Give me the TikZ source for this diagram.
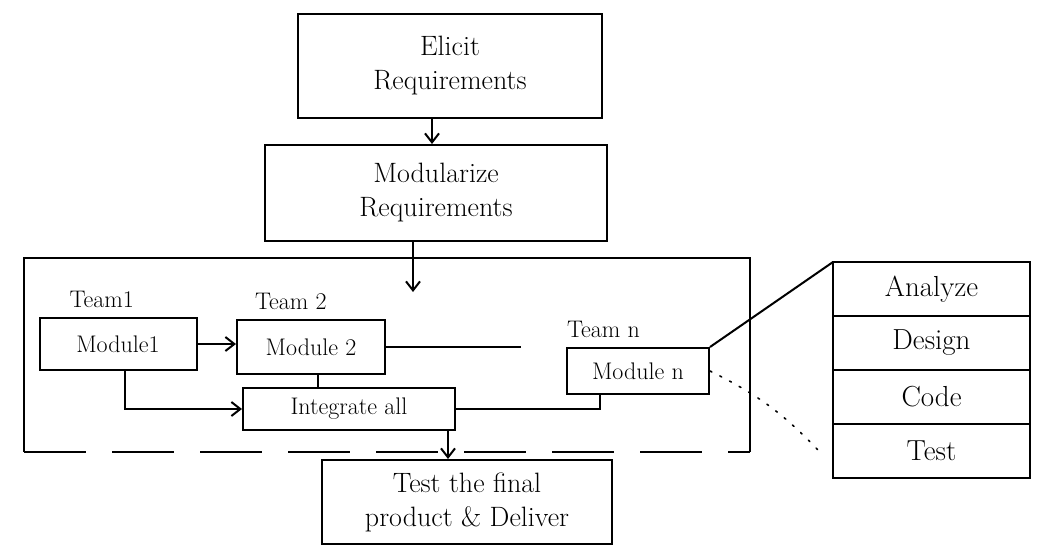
\documentclass[tikz,border=0pt]{standalone}
\usetikzlibrary{arrows.meta}
\begin{document}
\begin{tikzpicture}[x=1pt,y=-1pt,line width=2pt,
  box/.style={draw,rectangle,inner sep=0pt,align=center},
  big/.style={font=\fontsize{28}{34}\selectfont},
  mid/.style={font=\fontsize{24}{28}\selectfont},
  lbl/.style={inner sep=0pt,font=\fontsize{24}{28}\selectfont},
  row/.style={box,outer sep=0pt,minimum width=197,minimum height=54,
    font=\fontsize{29}{33}\selectfont},
  flow/.style={-{Straight Barb[length=9pt,width=14pt]}},
  hint/.style={line width=1.6pt,dash pattern=on 2pt off 9pt,line cap=round}]
% canvas
\path[fill=white] (0,0) rectangle (1040,551);

% requirement steps
\node[box,big,minimum width=304,minimum height=104] (elicit) at (450,66) {Elicit\\Requirements};
\node[box,big,minimum width=342,minimum height=96] (modul) at (436,193) {Modularize\\Requirements};
\draw[flow] ([xshift=-18]elicit.south) -- ([xshift=-18]elicit.south |- modul.north);

% team container, open (dashed) at the bottom
\coordinate (ctl) at (24,258);
\coordinate (ctr) at (750,258);
\coordinate (cbl) at (24,452);
\coordinate (cbr) at (750,452);
\draw (cbl) -- (ctl) -- (ctr) -- (cbr);
\draw[dash pattern=on 62pt off 26pt] (cbl) -- (cbr);
\draw[flow] ([xshift=-23]modul.south) -- ++(0,50);

% modules of the teams
\node[box,mid,minimum width=157,minimum height=52] (m1) at (118,344) {Module1};
\node[box,mid,minimum width=148,minimum height=54] (m2) at (311,347) {Module 2};
\node[box,mid,minimum width=142,minimum height=46] (mn) at (638,371) {Module n};
\node[lbl,anchor=south west] (t1) at ([shift={(30,-8)}]m1.north west) {Team1};
\node[lbl,anchor=south west] (t2) at ([shift={(18,-8)}]m2.north west) {Team 2};
\node[lbl,anchor=south west] (tn) at ([shift={(0,-8)}]mn.north west) {Team n};

% integration
\node[box,mid,minimum width=212,minimum height=42] (integ) at (349,409) {Integrate all};
\draw[flow] (m1.east) -- (m1.east -| m2.west);
\draw (m2.east) -- ++(135,0);
\draw ([xshift=7]m2.south) -- ([xshift=7]m2.south |- integ.north);
\draw[flow] ([xshift=7]m1.south) |- (integ.west);
\draw ([xshift=-38]mn.south) |- (integ.east);

% final step
\node[box,big,minimum width=290,minimum height=84] (final) at (467,502) {Test the final\\product \& Deliver};
\draw[flow] ([xshift=-8]integ.south east) -- ([xshift=-8]integ.south east |- final.north);

% activities inside one team
\node[row,anchor=north west] (an) at (833,262) {Analyze};
\node[row,anchor=north] (de) at (an.south) {Design};
\node[row,anchor=north] (co) at (de.south) {Code};
\node[row,anchor=north] (te) at (co.south) {Test};
\draw (mn.north east) -- (an.north west);
\draw[hint] (mn.east) to[bend left=10] ([xshift=-14]te.west);
\end{tikzpicture}
\end{document}
